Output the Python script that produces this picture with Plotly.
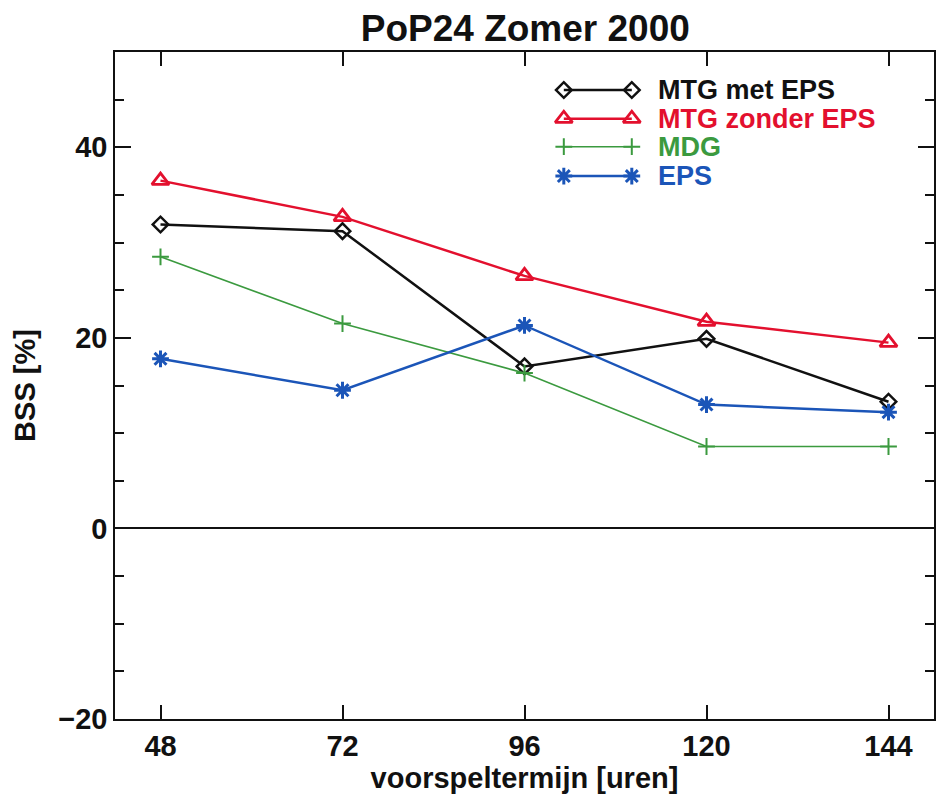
import plotly.graph_objects as go

# ---- data ----
lead_hours = [48, 72, 96, 120, 144]
mtg_met_eps = [31.9, 31.2, 17.0, 19.9, 13.3]
mtg_zonder_eps = [36.5, 32.7, 26.5, 21.7, 19.5]
mdg = [28.5, 21.5, 16.3, 8.6, 8.6]
eps = [17.8, 14.5, 21.3, 13.0, 12.2]

series_names = ["MTG met EPS", "MTG zonder EPS", "MDG", "EPS"]
x_ticks = [48, 72, 96, 120, 144]
y_ticks = [-20, 0, 20, 40]

title_text = "PoP24 Zomer 2000"
x_title = "voorspeltermijn [uren]"
y_title = "BSS [%]"

# ---- styles ----
FONT = "Liberation Sans, Arial, Helvetica, sans-serif"
BLACK = "#111111"
RED = "#e3102e"
GREEN = "#3b9a3f"
BLUE = "#1b55b8"

styles = [
    dict(color=BLACK, symbol="diamond-open", size=12, lw=2.5, mlw=2.5),
    dict(color=RED, symbol="triangle-up-open", size=15, lw=2.5, mlw=2.8),
    dict(color=GREEN, symbol="cross-thin-open", size=12, lw=1.6, mlw=2),
    dict(color=BLUE, symbol="asterisk-open", size=14, lw=2.5, mlw=3),
]
values = [mtg_met_eps, mtg_zonder_eps, mdg, eps]

fig = go.Figure()
for name, vals, st in zip(series_names, values, styles):
    fig.add_trace(go.Scatter(
        x=lead_hours, y=vals, name=name, mode="lines+markers",
        line=dict(color=st["color"], width=st["lw"]),
        marker=dict(symbol=st["symbol"], size=st["size"], color=st["color"],
                    line=dict(color=st["color"], width=st["mlw"])),
        showlegend=False,
    ))

# ---- custom legend (samples with markers at both ends) ----
leg_x0, leg_x1, leg_tx = 0.548, 0.631, 0.660
leg_rows = [0.943, 0.900, 0.858, 0.814]
for name, st, yy in zip(series_names, styles, leg_rows):
    fig.add_trace(go.Scatter(
        x=[leg_x0, leg_x1], y=[yy, yy], xaxis="x2", yaxis="y2",
        mode="lines+markers", showlegend=False, hoverinfo="skip",
        line=dict(color=st["color"], width=st["lw"]),
        marker=dict(symbol=st["symbol"], size=st["size"], color=st["color"],
                    line=dict(color=st["color"], width=st["mlw"])),
    ))
    fig.add_annotation(x=leg_tx, y=yy, xref="paper", yref="paper",
                       text=name, showarrow=False, xanchor="left", yanchor="middle",
                       font=dict(family=FONT, size=27, color=st["color"], weight="bold"))

axis_common = dict(
    showline=True, linecolor=BLACK, linewidth=1.5, mirror="ticks",
    ticks="inside", tickcolor=BLACK, tickwidth=1.5,
    showgrid=False,
    tickfont=dict(family=FONT, size=29, color=BLACK, weight="bold"),
)

fig.update_layout(
    width=938, height=794,
    margin=dict(l=115, r=2, t=52, b=75),
    paper_bgcolor="white", plot_bgcolor="white",
    title=dict(text=title_text, x=0.56, xanchor="center", y=0.965, yanchor="middle",
               font=dict(family=FONT, size=37, color=BLACK, weight="bold")),
    xaxis=dict(range=[42, 150], tickvals=x_ticks, ticklen=14, zeroline=False,
               title=dict(text=x_title, standoff=2,
                          font=dict(family=FONT, size=29, color=BLACK, weight="bold")),
               **axis_common),
    yaxis=dict(range=[-20, 50], tickvals=y_ticks, ticklen=16,
               zeroline=True, zerolinecolor=BLACK, zerolinewidth=1.5,
               minor=dict(dtick=5, ticklen=9, ticks="inside", tickcolor=BLACK, tickwidth=1.5),
               title=dict(text=y_title, standoff=14,
                          font=dict(family=FONT, size=29, color=BLACK, weight="bold")),
               **axis_common),
    xaxis2=dict(range=[0, 1], overlaying="x", visible=False, fixedrange=True),
    yaxis2=dict(range=[0, 1], overlaying="y", visible=False, fixedrange=True),
)

fig.write_html("out.html")
